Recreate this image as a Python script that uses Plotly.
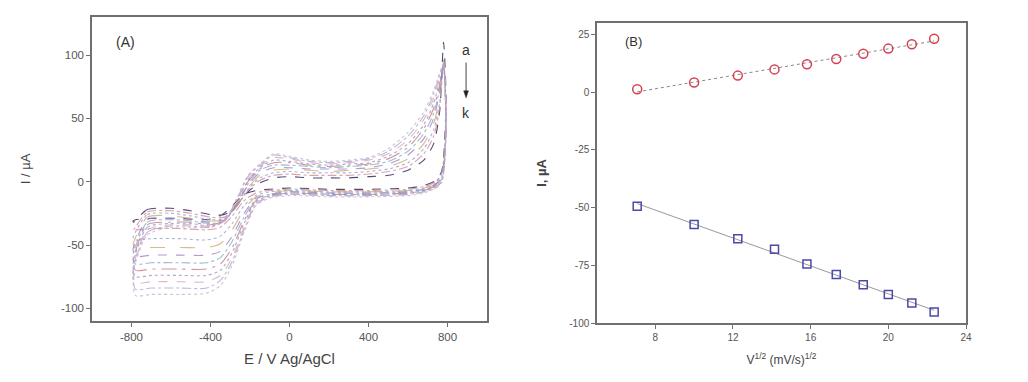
import numpy as np
import plotly.graph_objects as go

# ---------------- Panel A: cyclic voltammograms (11 scan rates) ----------------
E_FWD = [-790, -720, -600, -500, -400, -330, -270, -210, -150, -80, 0, 100, 200, 300, 400, 500, 600, 680, 730, 760, 780]
E_REV = [792, 785, 770, 740, 680, 600, 400, 200, 0, -100, -170, -230, -290, -350, -420, -550, -700, -780, -792]

I_FWD = [
    [-32, -22, -21, -23, -26, -26, -19, -8, -1, 3, 4, 3, 3, 3, 4, 5, 9, 17, 30, 55, 110],
    [-38, -24, -23, -25, -28, -28, -20, -7, 1, 5, 6, 5, 5, 5, 6, 8, 12, 22, 36, 58, 96],
    [-43, -26, -25, -27, -30, -29, -20, -6, 3, 7, 8, 7, 7, 7, 8, 10, 15, 26, 41, 62, 94],
    [-48, -28, -27, -29, -31, -30, -20, -5, 5, 9, 10, 9, 8, 9, 10, 12, 18, 30, 46, 66, 93],
    [-52, -30, -29, -30, -32, -30, -19, -3, 7, 11, 11, 10, 10, 10, 11, 14, 21, 34, 50, 70, 92],
    [-56, -32, -30, -31, -33, -31, -19, -2, 9, 13, 13, 12, 11, 12, 13, 16, 24, 38, 54, 73, 92],
    [-60, -34, -32, -32, -34, -31, -18, 0, 10, 15, 15, 13, 12, 13, 14, 18, 27, 42, 58, 76, 92],
    [-63, -36, -33, -33, -35, -31, -17, 1, 11, 17, 16, 14, 13, 14, 15, 20, 30, 45, 62, 79, 92],
    [-66, -38, -34, -34, -35, -31, -16, 2, 12, 19, 18, 15, 14, 15, 17, 22, 33, 49, 66, 82, 92],
    [-68, -40, -35, -35, -36, -31, -15, 4, 13, 21, 19, 16, 15, 16, 18, 24, 36, 52, 69, 84, 92],
    [-70, -42, -36, -36, -36, -31, -14, 5, 14, 22, 20, 17, 16, 17, 19, 26, 39, 55, 72, 86, 93],
]
I_REV = [
    [70, 30, 8, 1, -3, -5, -6, -6, -5, -6, -7, -10, -19, -27, -30, -29, -29, -30, -31],
    [60, 25, 7, 0, -4, -6, -7, -7, -6, -7, -9, -15, -27, -36, -38, -37, -37, -38, -38],
    [55, 22, 6, -1, -5, -7, -8, -8, -7, -8, -11, -19, -33, -43, -46, -45, -45, -46, -44],
    [52, 20, 5, -2, -5, -7, -8, -8, -7, -9, -12, -22, -38, -49, -52, -52, -52, -53, -49],
    [50, 19, 4, -2, -6, -8, -9, -9, -8, -10, -13, -25, -43, -55, -58, -58, -58, -59, -54],
    [48, 18, 3, -3, -6, -8, -9, -9, -8, -10, -14, -28, -47, -60, -64, -64, -64, -65, -58],
    [46, 17, 2, -3, -7, -9, -10, -10, -9, -11, -15, -31, -52, -65, -69, -69, -69, -70, -62],
    [45, 16, 1, -4, -7, -9, -10, -10, -9, -11, -16, -33, -56, -70, -74, -74, -74, -75, -66],
    [44, 15, 0, -4, -8, -10, -11, -11, -10, -12, -17, -36, -60, -74, -79, -79, -79, -80, -70],
    [43, 14, 0, -5, -8, -10, -11, -11, -10, -12, -18, -38, -63, -78, -84, -84, -84, -85, -74],
    [42, 14, -1, -5, -9, -11, -12, -12, -11, -13, -19, -40, -66, -82, -88, -89, -89, -90, -78],
]
CV_LABELS = ["k", "j", "i", "h", "g", "f", "e", "d", "c", "b", "a"]

# ---------------- Panel B: peak current vs sqrt(scan rate) ----------------
SQRT_V = [7.07, 10.0, 12.25, 14.14, 15.81, 17.32, 18.71, 20.0, 21.21, 22.36]
I_PA = [1.3, 4.2, 7.2, 9.9, 12.1, 14.4, 16.7, 18.9, 20.8, 23.2]
I_PC = [-49.4, -57.3, -63.5, -68.0, -74.4, -79.0, -83.4, -87.7, -91.3, -95.2]

A_XTICKS = [-800, -400, 0, 400, 800]
A_XTEXT = ["-800", "-400", "0", "400", "800"]
A_YTICKS = [-100, -50, 0, 50, 100]
A_YTEXT = ["-100", "-50", "0", "50", "100"]
B_XTICKS = [8, 12, 16, 20, 24]
B_YTICKS = [-100, -75, -50, -25, 0, 25]
B_YTEXT = ["-100", "-75", "-50", "-25", "0", "25"]

CV_COLORS = ["#2b1f4f", "#d58a9a", "#8ea2d8", "#c9ad6e", "#a77cc8", "#7fb0c8",
             "#c87a8a", "#9b94c0", "#d9a6b8", "#a9a9d8", "#c8b4c4"]
CV_DASH = ["dash", "dashdot", "dot", "longdash", "dash", "dashdot",
           "longdashdot", "dot", "dash", "dashdot", "dot"]

fig = go.Figure()

for i in range(len(I_FWD)):
    xs = E_FWD + E_REV + [E_FWD[0]]
    ys = I_FWD[i] + I_REV[i] + [I_FWD[i][0]]
    fig.add_trace(go.Scatter(
        x=xs, y=ys, mode="lines", name=CV_LABELS[i],
        line=dict(color=CV_COLORS[i], width=1.1, dash=CV_DASH[i],
                  shape="spline", smoothing=0.7),
        opacity=0.8, showlegend=False, xaxis="x", yaxis="y"))

# linear fits (from the data)
pa = np.polyfit(SQRT_V, I_PA, 1)
pc = np.polyfit(SQRT_V, I_PC, 1)
xfit = [SQRT_V[0], SQRT_V[-1]]
fig.add_trace(go.Scatter(x=xfit, y=list(np.polyval(pa, xfit)), mode="lines",
                         line=dict(color="#888888", width=1, dash="dot"),
                         showlegend=False, xaxis="x2", yaxis="y2"))
fig.add_trace(go.Scatter(x=xfit, y=list(np.polyval(pc, xfit)), mode="lines",
                         line=dict(color="#999999", width=1),
                         showlegend=False, xaxis="x2", yaxis="y2"))
fig.add_trace(go.Scatter(x=SQRT_V, y=I_PA, mode="markers", name="Ipa",
                         marker=dict(symbol="circle-open", size=9, color="#d8404f",
                                     line=dict(width=1.5, color="#d8404f")),
                         showlegend=False, xaxis="x2", yaxis="y2"))
fig.add_trace(go.Scatter(x=SQRT_V, y=I_PC, mode="markers", name="Ipc",
                         marker=dict(symbol="square-open", size=8, color="#4a4aa8",
                                     line=dict(width=1.5, color="#4a4aa8")),
                         showlegend=False, xaxis="x2", yaxis="y2"))

# page body has an 8px margin: figure is placed at (8, 8) in the window
OFF = 8
W, H = 1028 - 2 * OFF, 382 - 2 * OFF


def px(p):
    return (p - OFF) / W


def py(p):
    return 1 - (p - OFF) / H


axis_common = dict(showline=True, linecolor="#707070", linewidth=1.5, mirror=True,
                   ticks="outside", ticklen=4, tickcolor="#707070", tickwidth=1,
                   showgrid=False, zeroline=False, automargin=False)
font_a = dict(family="Arial, Liberation Sans", size=11.5, color="#555555")
font_b = dict(family="Arial, Liberation Sans", size=10, color="#555555")
title_color = "#444444"

fig.update_layout(
    width=W, height=H, margin=dict(l=0, r=0, t=0, b=0, autoexpand=False),
    paper_bgcolor="white", plot_bgcolor="white",
    xaxis=dict(domain=[px(92), px(487)], range=[-1000, 1000],
               tickvals=A_XTICKS, ticktext=A_XTEXT, anchor="y", tickfont=font_a,
               title=dict(text="E / V Ag/AgCl", standoff=12,
                          font=dict(family="Arial, Liberation Sans", size=15, color=title_color)),
               **axis_common),
    yaxis=dict(domain=[py(321), py(17)], range=[-110, 130],
               tickvals=A_YTICKS, ticktext=A_YTEXT, anchor="x", tickfont=font_a,
               title=dict(text="I / µA", standoff=27,
                          font=dict(family="Arial, Liberation Sans", size=13, color=title_color)),
               **axis_common),
    xaxis2=dict(domain=[px(597), px(966)], range=[5, 24],
                tickvals=B_XTICKS, anchor="y2", tickfont=font_b,
                title=dict(text="V<sup>1/2</sup> (mV/s)<sup>1/2</sup>", standoff=14,
                           font=dict(family="Arial, Liberation Sans", size=12, color=title_color)),
                **axis_common),
    yaxis2=dict(domain=[py(323), py(23)], range=[-100, 30],
                tickvals=B_YTICKS, ticktext=B_YTEXT, anchor="x2", tickfont=font_b,
                title=dict(text="<b>I, µA</b>", standoff=20,
                           font=dict(family="Arial, Liberation Sans", size=13, color=title_color)),
                **axis_common),
)

C = dict(showarrow=False, xanchor="center", yanchor="middle")
ann_font = dict(family="Arial, Liberation Sans", size=14, color="#333333")
fig.add_annotation(text="(A)", xref="x domain", yref="y domain", x=0.084, y=0.918,
                   font=ann_font, **C)
fig.add_annotation(text="(B)", xref="x2 domain", yref="y2 domain", x=0.10, y=0.937,
                   font=dict(ann_font, size=13), **C)
fig.add_annotation(text="a", xref="x domain", yref="y domain", x=0.947, y=0.891,
                   font=ann_font, **C)
fig.add_annotation(text="k", xref="x domain", yref="y domain", x=0.947, y=0.684,
                   font=ann_font, **C)
# arrow a -> k
fig.add_shape(type="line", xref="x domain", yref="y domain",
              x0=0.947, x1=0.947, y0=0.85, y1=0.75,
              line=dict(color="#444444", width=1))
fig.add_shape(type="path", xref="x domain", yref="y domain",
              path="M 0.941 0.757 L 0.953 0.757 L 0.947 0.734 Z",
              fillcolor="#222222", line=dict(color="#222222", width=0.5))

fig.write_html("out.html")
